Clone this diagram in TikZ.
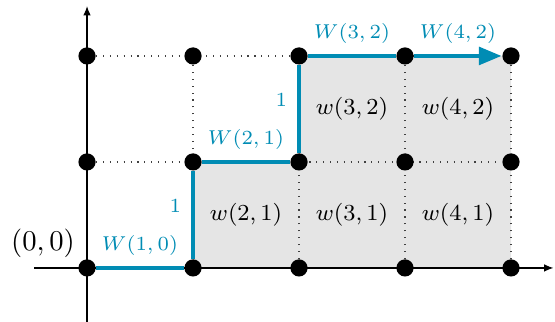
\documentclass[tikz,border=0pt]{standalone}
\usetikzlibrary{arrows.meta,backgrounds}
\definecolor{walkblue}{RGB}{0,140,180}

\begin{document}
\begin{tikzpicture}[x=1.3cm,y=1.3cm]
  \tikzset{dot/.style = {shape=circle,fill=black,inner sep=0pt,minimum size=6pt}, % 격자점
           gridline/.style = {dotted, black!75, thin},
           axis/.style = {thin, -{Latex[length=3.2pt,width=2.6pt]}},
           walk/.style = {draw=walkblue, line width=1.7pt},
           wlabel/.style = {text=walkblue, font=\fontsize{7.2pt}{8.6pt}\selectfont},
           cell/.style = {font=\footnotesize}}
  \useasboundingbox (-0.821,-0.509) rectangle (4.415,2.528);

  % 격자점들
  \foreach \i in {0,...,4}
    \foreach \j in {0,1,2}
      \node[dot] (p\i\j) at (\i,\j) {};

  % 축 끝점
  \coordinate (xstart) at (-0.5,0);
  \coordinate (xend) at (4.40,0);
  \coordinate (ystart) at (0,-0.509);
  \coordinate (yend) at (0,2.47);

  % 배경: 영역, 축, 점선
  \begin{scope}[on background layer]
    \fill[gray!20] (p10.center) -- (p40.center) -- (p42.center) -- (p22.center)
      -- (p21.center) -- (p11.center) -- cycle;
    \draw[axis] (xstart) -- (xend);
    \draw[axis] (ystart) -- (yend);
    \draw[gridline] (p01) -- (p41);
    \draw[gridline] (p02) -- (p42);
    \foreach \i in {1,...,4}
      \draw[gridline] (p\i0) -- (p\i2);
  \end{scope}

  % 경로
  \draw[walk] (p00) -- node[wlabel, above] (w10) {$W(1,0)$} (p10);
  \draw[walk] (p10) -- node[wlabel, left, pos=0.6] (up1) {$1$} (p11);
  \draw[walk] (p11) -- node[wlabel, above] (w21) {$W(2,1)$} (p21);
  \draw[walk] (p21) -- node[wlabel, left, pos=0.6] (up2) {$1$} (p22);
  \draw[walk] (p22) -- node[wlabel, above] (w32) {$W(3,2)$} (p32);
  \draw[walk, -{Triangle[length=8pt,width=6pt]}] (p32) -- node[wlabel, above] (w42) {$W(4,2)$} (p42);

  % 칸 이름
  \node[cell] (c21) at (1.5,0.5) {$w(2,1)$};
  \node[cell] (c31) at (2.5,0.5) {$w(3,1)$};
  \node[cell] (c41) at (3.5,0.5) {$w(4,1)$};
  \node[cell] (c32) at (2.5,1.5) {$w(3,2)$};
  \node[cell] (c42) at (3.5,1.5) {$w(4,2)$};

  \node (origin) at (-0.415,0.231) {$(0,0)$};

\end{tikzpicture}
\end{document}
